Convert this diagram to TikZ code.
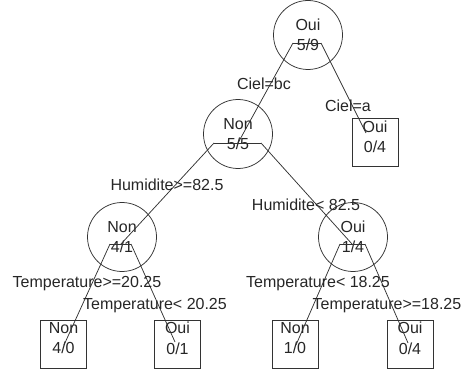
\documentclass[tikz,border=0pt]{standalone}
\usepackage{fontspec}
\setmainfont{Liberation Sans}
\begin{document}
\begin{tikzpicture}[x=1pt,y=-1pt,
  every node/.style={font=\fontsize{16}{20.5}\selectfont, text=black!85, inner sep=0pt},
  split/.style={draw=black!80, line width=0.75pt, circle, minimum size=69pt, align=center},
  leaf/.style={draw=black!80, line width=0.75pt, rectangle, minimum width=46pt, minimum height=48pt, align=center, text depth=12pt},
  edge/.style={draw=black!80, line width=0.75pt},
  elabel/.style={}]
\useasboundingbox (0,0) rectangle (464,369);
% internal nodes
\node[split] (root) at (308,35) {Oui\\5/9};
\node[split] (n55) at (238,134) {Non\\5/5};
\node[split] (n41) at (122,237) {Non\\4/1};
\node[split] (o14) at (353,237) {Oui\\1/4};
% leaves
\node[leaf] (l5) at (375,142.5) {Oui\\0/4};
\node[leaf] (l1) at (63.5,344) {Non\\4/0};
\node[leaf] (l2) at (177.5,344) {Oui\\0/1};
\node[leaf] (l3) at (295,344) {Non\\1/0};
\node[leaf] (l4) at (410,344) {Oui\\0/4};
% branch points
\coordinate (rL) at (293,43); \coordinate (rR) at (321,43);
\coordinate (nP) at (238,143); \coordinate (nL) at (214,143); \coordinate (nR) at (261,143);
\coordinate (aP) at (121,244); \coordinate (aL) at (110,244); \coordinate (aR) at (131,244);
\coordinate (bP) at (352,244); \coordinate (bL) at (340,244); \coordinate (bR) at (365,244);
\coordinate (l1p) at (64,345); \coordinate (l2p) at (175,342);
\coordinate (l3p) at (296,345); \coordinate (l4p) at (408,343);
\coordinate (l5p) at (366,133);
% bars
\draw[edge] (rL) -- (rR);
\draw[edge] (nL) -- (nR);
\draw[edge] (aL) -- (aR);
\draw[edge] (bL) -- (bR);
% branches
\draw[edge] (rL) -- (nP);
\draw[edge] (rR) -- (l5p);
\draw[edge] (nL) -- (aP);
\draw[edge] (nR) -- (bP);
\draw[edge] (aL) -- (l1p);
\draw[edge] (aR) -- (l2p);
\draw[edge] (bL) -- (l3p);
\draw[edge] (bR) -- (l4p);
% labels
\node[elabel] (e1) at (264,84) {Ciel=bc};
\node[elabel] (e2) at (348,106) {Ciel=a};
\node[elabel] (e3) at (167,185) {Humidite>=82.5};
\node[elabel] (e4) at (306,205) {Humidite< 82.5};
\node[elabel] (e5) at (87,284) {Temperature>=20.25};
\node[elabel] (e6) at (155,306) {Temperature< 20.25};
\node[elabel] (e7) at (318,284) {Temperature< 18.25};
\node[elabel] (e8) at (387,306) {Temperature>=18.25};
\end{tikzpicture}
\end{document}
